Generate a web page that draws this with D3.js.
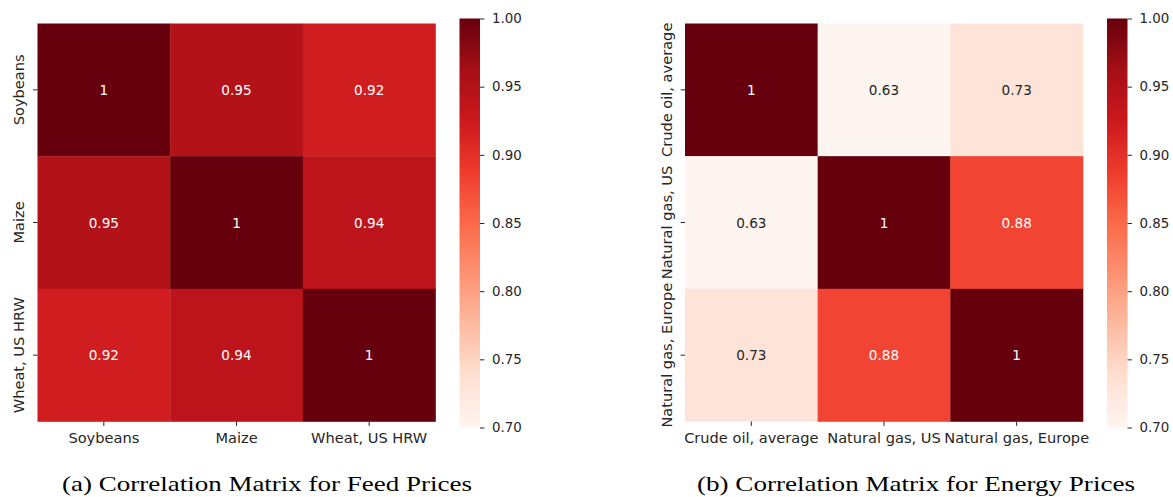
<!DOCTYPE html>
<html>
<head>
<meta charset="utf-8">
<script src="https://cdn.jsdelivr.net/npm/d3@7/dist/d3.min.js"></script>
<style>
  html, body { margin: 0; padding: 0; background: #fff; }
  svg text { font-family: "DejaVu Sans", sans-serif; }
  .caption { font-family: "Liberation Serif", "DejaVu Serif", serif; }
</style>
</head>
<body>
<svg id="fig" width="1173" height="497"></svg>
<script>
// Feed prices correlation
const feedLabels = ["Soybeans", "Maize", "Wheat, US HRW"];
const feedCorr = [
  [1.00, 0.95, 0.92],
  [0.95, 1.00, 0.94],
  [0.92, 0.94, 1.00]
];

// Energy prices correlation
const energyLabels = ["Crude oil, average", "Natural gas, US", "Natural gas, Europe"];
const energyCorr = [
  [1.00, 0.63, 0.73],
  [0.63, 1.00, 0.88],
  [0.73, 0.88, 1.00]
];

const colorbarTicks = [0.70, 0.75, 0.80, 0.85, 0.90, 0.95, 1.00];
const captions = ["(a) Correlation Matrix for Feed Prices", "(b) Correlation Matrix for Energy Prices"];

const vmin = 0.70, vmax = 1.00;
// Matplotlib "Reds" anchors, interpolated linearly
const redsStops = ["#fff5f0", "#fee0d2", "#fcbba1", "#fc9272", "#fb6a4a", "#ef3b2c", "#cb181d", "#a50f15", "#67000d"];
const color = d3.scaleLinear()
  .domain(redsStops.map((_, i) => vmin + (vmax - vmin) * i / (redsStops.length - 1)))
  .range(redsStops)
  .interpolate(d3.interpolateRgb)
  .clamp(true);

function relLum(c) {
  const rgb = d3.rgb(c);
  const f = v => { v /= 255; return v <= 0.03928 ? v / 12.92 : Math.pow((v + 0.055) / 1.055, 2.4); };
  return 0.2126 * f(rgb.r) + 0.7152 * f(rgb.g) + 0.0722 * f(rgb.b);
}

const fmt = d3.format(".2~g");
const svg = d3.select("#fig");
const FS_TICK = 14.6, FS_ANN = 13.6, FS_CB = 13.4;
const textCol = "#262626";

function heatmap(opts) {
  const { labels, corr, left, top, size, cbX, cbW, cbTop, cbBottom, caption, capX, capY, capW, gid } = opts;
  const g = svg.append("g");
  const x = d3.scaleBand().domain(labels).range([left, left + size]);
  const y = d3.scaleBand().domain(labels).range([top, top + size]);

  const cells = [];
  corr.forEach((row, i) => row.forEach((v, j) => cells.push({ r: labels[i], c: labels[j], v })));

  g.selectAll("rect.cell").data(cells).join("rect")
    .attr("class", "cell")
    .attr("x", d => x(d.c)).attr("y", d => y(d.r))
    .attr("width", x.bandwidth() + 0.3).attr("height", y.bandwidth() + 0.3)
    .attr("fill", d => color(d.v));

  g.selectAll("text.ann").data(cells).join("text")
    .attr("class", "ann")
    .attr("x", d => x(d.c) + x.bandwidth() / 2)
    .attr("y", d => y(d.r) + y.bandwidth() / 2)
    .attr("text-anchor", "middle").attr("dominant-baseline", "central")
    .attr("font-size", FS_ANN)
    .attr("fill", d => relLum(color(d.v)) > 0.408 ? textCol : "#ffffff")
    .text(d => fmt(d.v));

  // x axis
  const xAxis = d3.axisBottom(x).tickSize(4.4).tickPadding(7);
  const gx = g.append("g").attr("transform", `translate(0,${top + size})`).call(xAxis);
  gx.select(".domain").remove();
  gx.selectAll("line").attr("stroke", "#262626").attr("stroke-width", 1);
  gx.selectAll("text").attr("font-size", FS_TICK).attr("fill", textCol).attr("font-family", "DejaVu Sans");

  // y axis with rotated labels
  const yAxis = d3.axisLeft(y).tickSize(4.4).tickPadding(4.4);
  const gy = g.append("g").attr("transform", `translate(${left},0)`).call(yAxis);
  gy.select(".domain").remove();
  gy.selectAll("line").attr("stroke", "#262626").attr("stroke-width", 1);
  gy.selectAll("text")
    .attr("font-size", FS_TICK).attr("fill", textCol).attr("font-family", "DejaVu Sans")
    .attr("x", null).attr("dy", null)
    .attr("text-anchor", "middle")
    .attr("transform", "translate(-19,0) rotate(-90)")
    .attr("dominant-baseline", "central");

  // colorbar
  const cb = d3.scaleLinear().domain([vmin, vmax]).range([cbBottom, cbTop]);
  const defs = svg.append("defs");
  const grad = defs.append("linearGradient").attr("id", gid)
    .attr("x1", 0).attr("y1", 1).attr("x2", 0).attr("y2", 0);
  d3.range(0, 1.0001, 0.02).forEach(t => {
    grad.append("stop").attr("offset", t).attr("stop-color", color(vmin + t * (vmax - vmin)));
  });
  g.append("rect").attr("x", cbX).attr("y", cbTop).attr("width", cbW).attr("height", cbBottom - cbTop)
    .attr("fill", `url(#${gid})`);
  const cAxis = d3.axisRight(cb).tickValues(colorbarTicks).tickFormat(d3.format(".2f")).tickSize(4.4).tickPadding(7.5);
  const gc = g.append("g").attr("transform", `translate(${cbX + cbW},0)`).call(cAxis);
  gc.select(".domain").remove();
  gc.selectAll("line").attr("stroke", "#262626");
  gc.selectAll("text").attr("font-size", FS_CB).attr("fill", textCol).attr("font-family", "DejaVu Sans");

  svg.append("text").attr("class", "caption")
    .attr("x", capX).attr("y", capY)
    .attr("text-anchor", "middle")
    .attr("font-size", 21).attr("fill", "#000")
    .attr("textLength", capW).attr("lengthAdjust", "spacingAndGlyphs")
    .text(caption);
}

heatmap({ labels: feedLabels, corr: feedCorr, left: 37.5, top: 23.5, size: 398,
  cbX: 459.5, cbW: 20.5, cbTop: 18.5, cbBottom: 427.5,
  caption: captions[0], capX: 267, capY: 491, capW: 410, gid: "cbA" });

heatmap({ labels: energyLabels, corr: energyCorr, left: 685, top: 23.5, size: 398,
  cbX: 1107, cbW: 20.5, cbTop: 18.5, cbBottom: 427.5,
  caption: captions[1], capX: 916, capY: 491, capW: 438, gid: "cbB" });
</script>
</body>
</html>
